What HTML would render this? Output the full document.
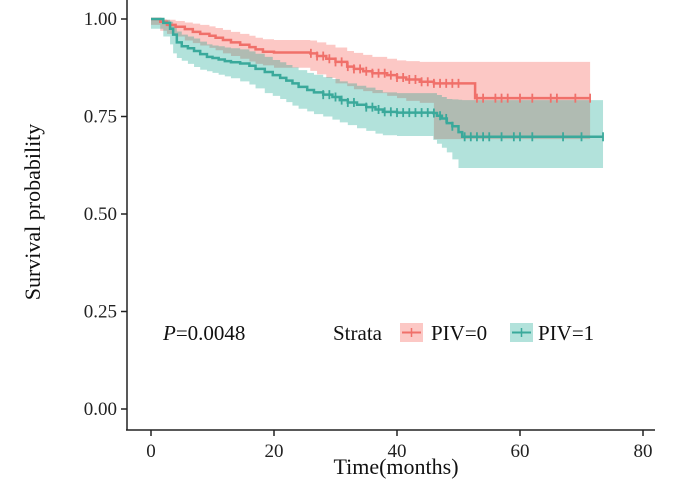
<!DOCTYPE html>
<html><head><meta charset="utf-8"><style>
body{margin:0;background:#fff}
svg{display:block;font-family:"Liberation Serif",serif}
</style></head><body>
<svg id="chart" width="700" height="482" viewBox="0 0 700 482">
<g id="bands"></g>
<g id="lines"></g>
<g id="axes"></g>
<text x="40" y="212" transform="rotate(-90 40 212)" text-anchor="middle" font-size="22" fill="#111">Survival probability</text>
<text x="396" y="474" text-anchor="middle" font-size="22" fill="#111">Time(months)</text>
<text x="163" y="340" font-size="21" fill="#111"><tspan font-style="italic">P</tspan>=0.0048</text>
<g>
<text x="333" y="340" font-size="21" fill="#111">Strata</text>
<g>
<rect x="400" y="323" width="23" height="19" fill="#f8766d" fill-opacity="0.4"/>
<line x1="402" y1="332.5" x2="421" y2="332.5" stroke="#f0706a" stroke-width="2"/>
<line x1="411.5" y1="328" x2="411.5" y2="337" stroke="#f0706a" stroke-width="1.5"/>
<text x="431" y="340" font-size="21" fill="#111">PIV=0</text></g>
<g>
<rect x="510" y="323" width="23" height="19" fill="#00a087" fill-opacity="0.3"/>
<line x1="512" y1="332.5" x2="531" y2="332.5" stroke="#3aa99b" stroke-width="2"/>
<line x1="521.5" y1="328" x2="521.5" y2="337" stroke="#3aa99b" stroke-width="1.5"/>
<text x="538" y="340" font-size="21" fill="#111">PIV=1</text></g>
</g>
</svg>
<script>
const xTicks=[0,20,40,60,80];
const yTicks=[0,0.25,0.5,0.75,1];
const yTickLabels=["0.00","0.25","0.50","0.75","1.00"];
const t0=[0,1.5,2.6,4,5.5,6.8,8,9.5,10.5,11.7,13,14.5,16,17,18.2,20,25.9,27,28.5,30,31.9,33,34.5,36,38.4,40,41.5,43.7,46,52.7,71.4];
const s0=[1,.993,.985,.98,.974,.967,.962,.957,.952,.946,.94,.934,.928,.922,.916,.914,.912,.905,.898,.89,.878,.872,.866,.861,.856,.85,.845,.839,.835,.797,.797];
const lo0=[1,.985,.97,.962,.955,.945,.938,.932,.926,.92,.912,.905,.898,.891,.885,.881,.875,.867,.858,.849,.835,.828,.82,.815,.81,.803,.797,.79,.785,.692,.692];
const hi0=[1,.999,.998,.995,.991,.988,.985,.981,.977,.972,.967,.962,.957,.952,.948,.946,.945,.94,.934,.927,.918,.913,.908,.903,.898,.894,.892,.89,.89,.89,.89];
const t1=[0,2,3.1,3.6,4.2,5,6,7,8,9.1,10,11,12,13,14.5,16,17,18.5,19.8,21,22,23,24,25.4,26.5,28,29.5,30.7,32,33.5,35,36.5,37.7,40,43,45.9,46.5,47.3,48.1,49,50,50.6,73.5];
const s1=[1,.99,.975,.96,.94,.93,.925,.918,.91,.903,.9,.896,.892,.889,.886,.88,.872,.864,.856,.849,.842,.835,.826,.818,.812,.806,.8,.792,.786,.78,.774,.768,.762,.76,.76,.759,.752,.745,.733,.725,.71,.698,.698];
const lo1=[1,.975,.955,.935,.912,.9,.893,.885,.877,.87,.866,.862,.857,.853,.848,.84,.832,.822,.81,.803,.795,.787,.778,.77,.763,.756,.75,.742,.735,.728,.72,.713,.706,.702,.7,.7,.69,.68,.67,.658,.64,.618,.618];
const hi1=[1,.998,.993,.982,.968,.96,.955,.95,.942,.935,.932,.93,.927,.925,.922,.917,.911,.903,.895,.889,.882,.876,.869,.862,.857,.851,.846,.84,.835,.829,.824,.818,.812,.81,.81,.81,.805,.8,.795,.794,.793,.792,.792];
const cens0=[26,27,28,29,30,31,32,33,34,35,36,37,38,39,40,41,42,43,44,45,46,47,48,49,50,53,54,56,57,58,60,62,65,66,69,71.4];
const cens1=[28,29,30,31,32,33,35,36,37,38,39,40,41,42,43,44,45,46,47,48,49,51,52,53,54,55,57,59,60,62,67,70,73.5];
const X=t=>151+t*6.15, Y=s=>409-s*390;
const NS="http://www.w3.org/2000/svg";
function el(tag,attrs,parent){const e=document.createElementNS(NS,tag);for(const k in attrs)e.setAttribute(k,attrs[k]);parent.appendChild(e);return e;}
function stepPath(t,s){let d="M"+X(t[0])+","+Y(s[0]);for(let i=1;i<t.length;i++){d+="H"+X(t[i])+"V"+Y(s[i]);}return d;}
function bandPath(t,lo,hi){let d="M"+X(t[0])+","+Y(hi[0]);for(let i=1;i<t.length;i++)d+="H"+X(t[i])+"V"+Y(hi[i]);for(let i=t.length-1;i>0;i--)d+="V"+Y(lo[i])+"H"+X(t[i-1]);d+="V"+Y(lo[0])+"Z";return d;}
function valAt(t,s,x){let v=s[0];for(let i=0;i<t.length;i++)if(t[i]<=x)v=s[i];return v;}
const bands=document.getElementById('bands'),lines=document.getElementById('lines'),axes=document.getElementById('axes');
const b0=el('path',{d:bandPath(t0,lo0,hi0),fill:'#f8766d','fill-opacity':0.4},bands);


const b1=el('path',{d:bandPath(t1,lo1,hi1),fill:'#00a087','fill-opacity':0.3},bands);


const series=[[t0,s0,cens0,'#f0706a','piv0'],[t1,s1,cens1,'#3aa99b','piv1']];
series.forEach(([t,s,c,col,nm])=>{
 const p=el('path',{d:stepPath(t,s),fill:'none',stroke:col,'stroke-width':2.5},lines);
 
 
 c.forEach(ct=>{const y=Y(valAt(t,s,ct));
  const m=el('line',{x1:X(ct),x2:X(ct),y1:y-4.5,y2:y+4.5,stroke:col,'stroke-width':1.8},lines);
  
  });
});
el('line',{x1:127,y1:0,x2:127,y2:430,stroke:'#222','stroke-width':1.5},axes);
el('line',{x1:126,y1:430,x2:655,y2:430,stroke:'#222','stroke-width':1.5},axes);
xTicks.forEach(v=>{el('line',{x1:X(v),x2:X(v),y1:430,y2:436,stroke:'#222','stroke-width':1.5},axes);
 const tx=el('text',{x:X(v),y:457,'text-anchor':'middle','font-size':19,fill:'#222'},axes);tx.textContent=v;
 
 });
yTicks.forEach((v,i)=>{el('line',{x1:121,x2:127,y1:Y(v),y2:Y(v),stroke:'#222','stroke-width':1.5},axes);
 const tx=el('text',{x:117,y:Y(v)+6,'text-anchor':'end','font-size':19,fill:'#222'},axes);tx.textContent=yTickLabels[i];
 
 });
</script>
</body></html>
